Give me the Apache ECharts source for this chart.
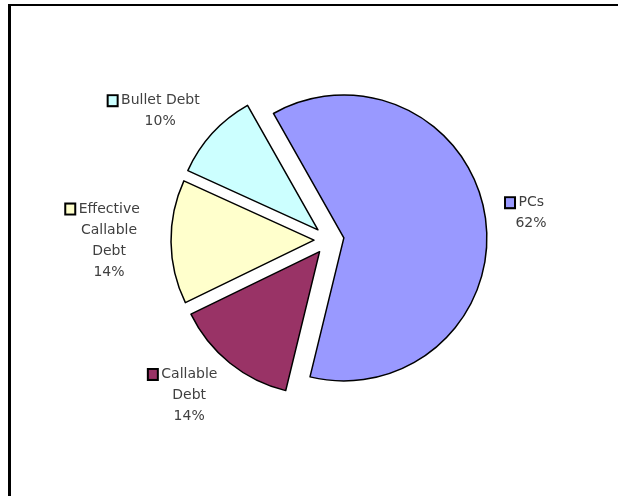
<!DOCTYPE html>
<html>
<head>
<meta charset="utf-8">
<script src="https://cdn.jsdelivr.net/npm/echarts@6/dist/echarts.min.js"></script>
<style>
  html, body { margin: 0; padding: 0; background: #fff; }
  #chart { width: 618px; height: 496px; }
</style>
</head>
<body>
<div id="chart"></div>
<script>
var categories = ['PCs', 'Callable Debt', 'Effective Callable Debt', 'Bullet Debt'];
var shares = [62, 14, 14, 10];
// how Excel wrapped each label
var labelText = ['PCs', 'Callable\nDebt', 'Effective\nCallable\nDebt', 'Bullet Debt'];
var colors = ['#9999ff', '#993366', '#ffffcc', '#ccffff'];

var dom = document.getElementById('chart');
var chart = echarts.init(dom, null, { renderer: 'canvas' });

// small hand nudges so labels sit where Excel put them
var nudge = [[-6, 2], [-8, -8], [-10, -2], [-14, 13]];

var rich = {
    t: { fontFamily: 'DejaVu Sans', fontSize: 14, color: '#404040', lineHeight: 21 },
    sp: { width: 12 }
};
colors.forEach(function (c, i) {
    rich['sq' + i] = { width: 8, height: 9, backgroundColor: c, borderColor: '#000', borderWidth: 2 };
});

var pieData = categories.map(function (name, i) {
    return {
        name: name,
        value: shares[i],
        selected: true,
        itemStyle: { color: colors[i] }
    };
});

var option = {
    animation: false,
    graphic: [
        { type: 'line', shape: { x1: 9, y1: 5, x2: 618, y2: 5 }, style: { stroke: '#000', lineWidth: 2 } },
        { type: 'line', shape: { x1: 9.5, y1: 4, x2: 9.5, y2: 496 }, style: { stroke: '#000', lineWidth: 3 } }
    ],
    series: [
        {
            type: 'pie',
            center: [329, 240],
            radius: 143,
            startAngle: 119.5,
            clockwise: true,
            selectedMode: 'multiple',
            selectedOffset: 15,
            avoidLabelOverlap: false,
            emphasis: { scale: false },
            itemStyle: { borderColor: '#000', borderWidth: 1.5 },
            label: {
                show: true,
                position: 'outside',
                distanceToLabelLine: 0,
                rich: rich,
                formatter: function (p) {
                    var lines = labelText[p.dataIndex].split('\n');
                    var out = '{sq' + p.dataIndex + '|}{t| ' + lines[0] + '}{sp|}';
                    for (var k = 1; k < lines.length; k++) {
                        out += '\n{t|' + lines[k] + '}';
                    }
                    out += '\n{t|' + Math.round(p.percent) + '%}';
                    return out;
                }
            },
            labelLine: { show: false, length: 52, length2: 0 },
            labelLayout: function (params) {
                var n = nudge[params.dataIndex];
                return { align: 'center', verticalAlign: 'middle', dx: n[0], dy: n[1] };
            },
            data: pieData
        }
    ]
};

chart.setOption(option);
</script>
</body>
</html>
